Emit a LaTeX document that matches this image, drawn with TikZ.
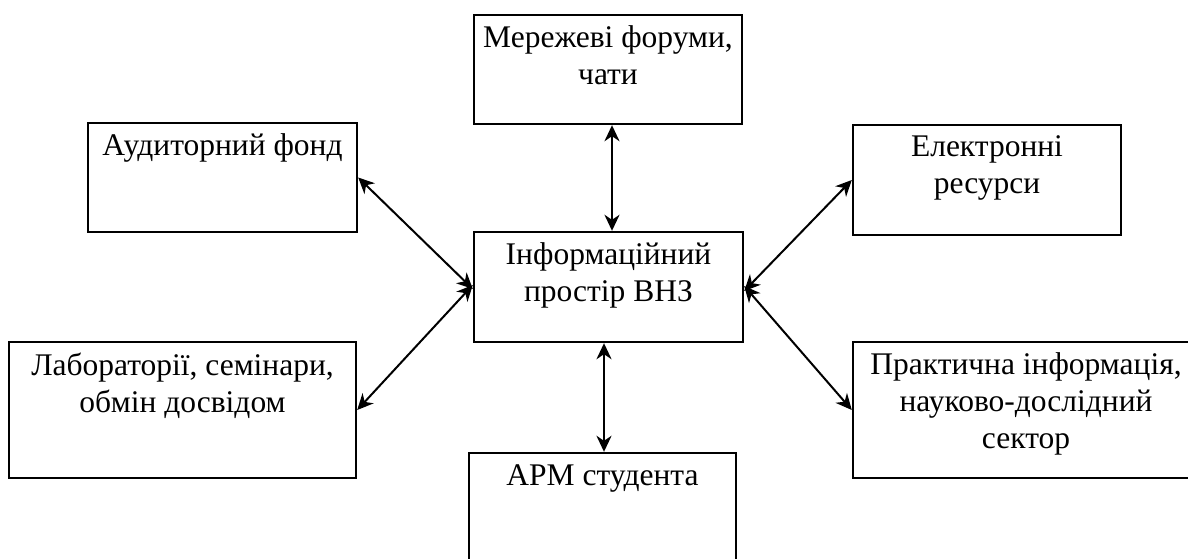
\documentclass[tikz,border=0pt]{standalone}
\usepackage{fontspec}
\setmainfont{Liberation Serif}
\usetikzlibrary{positioning,arrows.meta}

\tikzset{
    box/.style={draw,line width=2.4pt,minimum width=#1,inner sep=0pt},
    lbl/.style={align=center,inner sep=0pt,font=\fontsize{31.5}{37}\selectfont},
    link/.style={line width=2pt,{Stealth[length=16pt,width=15pt,inset=5pt]}-{Stealth[length=16pt,width=15pt,inset=5pt]}}
}

\begin{document}
\begin{tikzpicture}[x=1pt,y=-1pt]
    \useasboundingbox (0,0) rectangle (1188,559);
    \clip (0,0) rectangle (1188,559);

    \node[box=268pt,minimum height=109pt] (net) at (608,69.5) {};
    \node[box=269pt,minimum height=109pt] (aud) at (222.5,177.5) {};
    \node[box=269pt,minimum height=110pt] (ctr) at (608.5,287) {};
    \node[box=268pt,minimum height=110pt] (elec) at (987,180) {};
    \node[box=347pt,minimum height=136pt] (lab) at (182.5,410) {};
    \node[box=346pt,minimum height=136pt] (prak) at (1026,410) {};
    \node[box=267pt,minimum height=136pt] (apm) at (602.5,521) {};

    \node[lbl,below=11.5pt of net.north] (netT) {Мережеві форуми,\\чати};
    \node[lbl,below=11.5pt of aud.north] (audT) {Аудиторний фонд};
    \node[lbl,below=11.5pt of ctr.north] (ctrT) {Інформаційний\\простір ВНЗ};
    \node[lbl,below=11.5pt of elec.north] (elecT) {Електронні\\ресурси};
    \node[lbl,below=11.5pt of lab.north] (labT) {Лабораторії, семінари,\\обмін досвідом};
    \node[lbl,below=11.5pt of prak.north] (prakT) {Практична інформація,\\науково-дослідний\\сектор};
    \node[lbl,below=13pt of apm.north] (apmT) {АРМ студента};

    \draw[link] ([xshift=4pt]net.south) -- ([xshift=3.5pt]ctr.north);
    \draw[link] (aud.east) -- ([yshift=-2pt]ctr.west);
    \draw[link] ([yshift=2pt]ctr.west) -- (lab.east);
    \draw[link] ([yshift=-4pt]ctr.east) -- (elec.west);
    \draw[link] ([yshift=1pt]ctr.east) -- (prak.west);
    \draw[link] ([xshift=1.5pt]ctr.south -| apm.north) -- ([xshift=1.5pt]apm.north);
\end{tikzpicture}
\end{document}
